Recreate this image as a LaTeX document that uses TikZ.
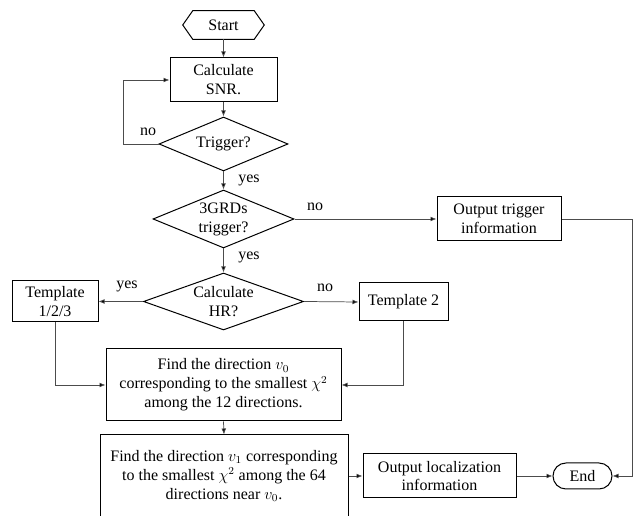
\documentclass[tikz,border=0pt]{standalone}
\usepackage{fontspec}
\setmainfont{Liberation Serif}
\usetikzlibrary{shapes.geometric,arrows.meta}
\begin{document}
\begin{tikzpicture}[x=0.75pt,y=-0.75pt,
  every node/.style={font=\fontsize{12}{14.2}\selectfont},
  box/.style={draw=black,line width=0.75pt,rectangle,align=center,inner sep=1pt},
  dia/.style={draw=black,line width=0.75pt,diamond,align=center,inner sep=-8pt},
  conn/.style={draw=black!70,line width=0.55pt,-{Latex[length=4.5pt,width=3.6pt,fill=black]}},
  lbl/.style={inner sep=0pt}]
\useasboundingbox (0,0) rectangle (644,516);
% nodes
\node[minimum width=60.75pt,minimum height=21pt,inner sep=0pt] (start) at (223.5,25) {Start};
\draw[line width=0.75pt] (start.west) -- ([xshift=7.5pt]start.north west) -- ([xshift=-7.5pt]start.north east) -- (start.east) -- ([xshift=-7.5pt]start.south east) -- ([xshift=7.5pt]start.south west) -- cycle;
\node[box,minimum width=80.25pt,minimum height=33pt] (snr) at (223.5,80) {Calculate\\SNR.};
\node[dia,minimum width=96.75pt,minimum height=40.5pt] (trig) at (223.5,144) {Trigger?};
\node[dia,minimum width=105.75pt,minimum height=43.5pt] (g3) at (223.5,219) {3GRDs\\trigger?};
\node[dia,minimum width=120pt,minimum height=42.75pt] (hr) at (223.5,301.5) {Calculate\\HR?};
\node[box,minimum width=93pt,minimum height=33pt] (outtrig) at (499,219) {Output trigger\\information};
\node[box,minimum width=64.5pt,minimum height=30.75pt] (t123) at (55,301.5) {Template\\1/2/3};
\node[box,minimum width=66.75pt,minimum height=28.5pt] (t2) at (403.5,302) {Template 2};
\node[box,minimum width=176.25pt,minimum height=54pt] (v0) at (223.5,385) {Find the direction $v_0$\\corresponding to the smallest $\chi^2$\\among the 12 directions.};
\node[box,minimum width=186pt,minimum height=61.5pt] (v1) at (224,476) {Find the direction $v_1$ corresponding\\to the smallest $\chi^2$ among the 64\\directions near $v_0$.};
\node[box,minimum width=114.75pt,minimum height=33pt] (outloc) at (439.5,476) {Output localization\\information};
\node[draw=black,line width=0.75pt,rounded corners=9.75pt,minimum width=44.25pt,minimum height=19.5pt,inner sep=0pt] (end) at (582.5,476) {End};
% helper coordinates
\coordinate (loopx) at (123,0);
\coordinate (rx) at (632,0);
% connectors
\draw[conn] (start.south) -- (snr.north);
\draw[conn] (snr.south) -- (trig.north);
\draw[conn] (trig.west) -- (trig.west -| loopx) |- (snr.west);
\draw[conn] (trig.south) -- (g3.north);
\draw[conn] (g3.east) -- (outtrig.west);
\draw[conn] (g3.south) -- (hr.north);
\draw[conn] (hr.west) -- (t123.east);
\draw[conn] (hr.east) -- (t2.west);
\draw[conn] (t123.south) |- (v0.west);
\draw[conn] (t2.south) |- (v0.east);
\draw[conn] (v0.south) -- (v1.north);
\draw[conn] (v1.east) -- (outloc.west);
\draw[conn] (outloc.east) -- (end.west);
\draw[conn] (outtrig.east) -- (outtrig.east -| rx) |- (end.east);
% labels
\node[lbl] (l1) at (148,132) {no};
\node[lbl] (l2) at (249,180) {yes};
\node[lbl] (l3) at (315,207) {no};
\node[lbl] (l4) at (249,257) {yes};
\node[lbl] (l5) at (127,286) {yes};
\node[lbl] (l6) at (325,288) {no};
\end{tikzpicture}
\end{document}
